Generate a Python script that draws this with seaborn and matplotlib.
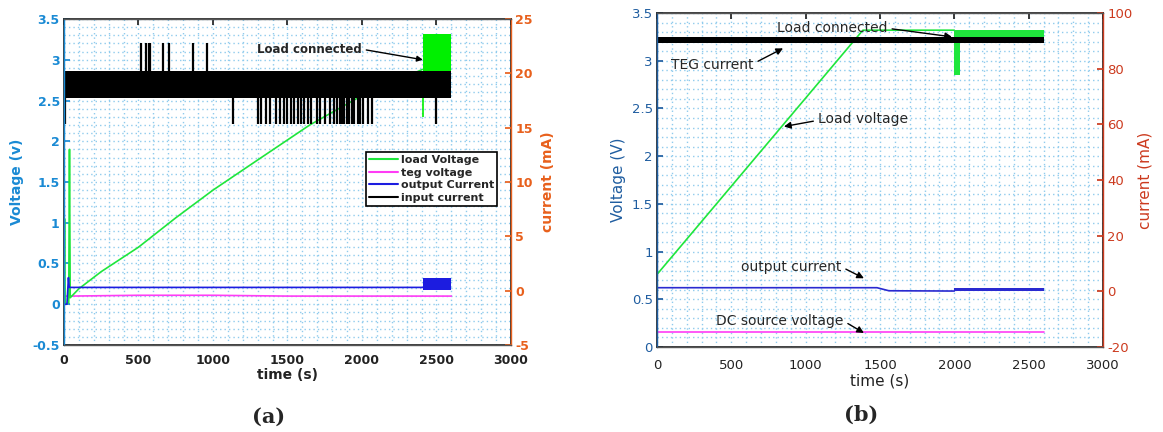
import matplotlib
matplotlib.use("Agg")
import matplotlib.pyplot as plt
import seaborn as sns
from matplotlib.ticker import MultipleLocator, FuncFormatter
from matplotlib.lines import Line2D

# ---------------- panel (a) data ----------------
# load voltage (V), left axis
a_load_t = [0, 4, 8, 12, 32, 37, 42, 100, 250, 500, 750, 1000, 1300, 1650, 2000, 2405]
a_load_v = [0.0, 1.05, 0.02, 0.0, 0.02, 1.9, 0.08, 0.19, 0.40, 0.70, 1.06, 1.40, 1.77, 2.20, 2.56, 2.88]
# load connected block (V)
a_blk_t = [2410, 2600]
a_blk_lo = [2.85, 2.85]
a_blk_hi = [3.32, 3.32]
a_blk_dip = 2.30
# teg voltage (V)
a_teg_t = [0, 40, 500, 1000, 1500, 2600]
a_teg_v = [0.10, 0.10, 0.11, 0.11, 0.10, 0.10]
# output current (mA), right axis
a_out_t = [0, 20, 30, 35, 40, 2410]
a_out_c = [-1.25, -1.25, 1.2, 0.3, 0.3, 0.3]
a_out_blk_t = [2410, 2600]
a_out_blk_lo = [0.03, 0.03]
a_out_blk_hi = [1.2, 1.2]
# input current (mA) band and spikes
a_in_t = [0, 2600]
a_in_lo = [17.7, 17.7]
a_in_hi = [20.2, 20.2]
a_up_t = [517, 550, 568, 577, 662, 707, 863, 957]
a_up_c = 22.75
a_dn_t = [8, 1134, 1300, 1320, 1355, 1380, 1420, 1450, 1480, 1500, 1525, 1545,
          1570, 1590, 1610, 1640, 1660, 1700, 1720, 1750, 1785, 1810, 1830, 1850,
          1865, 1880, 1900, 1915, 1935, 1950, 1975, 1990, 2010, 2040, 2070, 2496]
a_dn_c = 15.3

# ---------------- panel (b) data ----------------
b_load_t = [0, 1385, 2000]
b_load_v = [0.76, 3.32, 3.32]
b_load_band_t = [2000, 2600]
b_load_band_lo = [3.24, 3.24]
b_load_band_hi = [3.32, 3.32]
b_dip_t = [2000, 2035]
b_dip_lo = [2.85, 2.85]
b_dip_hi = [3.25, 3.25]
b_teg_t = [0, 2600]
b_teg_lo = [89.4, 89.4]
b_teg_hi = [91.4, 91.4]
b_out_t = [0, 1480, 1560, 2000]
b_out_c = [1.3, 1.3, 0.2, 0.1]
b_out_band_t = [2000, 2600]
b_out_band_lo = [0.0, 0.0]
b_out_band_hi = [1.1, 1.1]
b_dc_t = [0, 2600]
b_dc_v = [0.157, 0.157]

GREEN = "#1fe63c"
MAGENTA = "#ff3cf5"
BLUE = "#1c1ce0"
GRID = "#8fcbed"

sns.set_theme(style="white")
plt.rcParams["font.family"] = ["DejaVu Sans"]
plt.rcParams["axes.unicode_minus"] = False

matlab_fmt = FuncFormatter(lambda v, pos: "%g" % round(v, 6))


def base_axes(ax, ax2, ylim, y2lim, y2step, lcol, rcol, weight, xpad):
    ax.set_xlim(0, 3000)
    ax.set_ylim(*ylim)
    ax2.set_ylim(*y2lim)
    ax.xaxis.set_major_locator(MultipleLocator(500))
    ax.xaxis.set_minor_locator(MultipleLocator(100))
    ax.yaxis.set_major_locator(MultipleLocator(0.5))
    ax.yaxis.set_minor_locator(MultipleLocator(0.1))
    ax.yaxis.set_major_formatter(matlab_fmt)
    ax2.yaxis.set_major_locator(MultipleLocator(y2step))
    ax2.yaxis.set_major_formatter(matlab_fmt)
    ax.grid(which="both", color=GRID, linestyle=(0, (1, 2.2)), linewidth=1.0)
    size = 9 if weight == "bold" else 9.5
    ax.tick_params(which="major", direction="in", length=4, top=True, right=False,
                   labelsize=size, pad=3)
    ax.tick_params(axis="x", pad=xpad, colors="#222222")
    ax.tick_params(which="minor", length=0)
    ax.tick_params(axis="y", colors=lcol)
    ax2.tick_params(direction="in", length=4, colors=rcol, labelsize=size, pad=3)
    for t in ax.get_xticklabels() + ax.get_yticklabels() + ax2.get_yticklabels():
        t.set_fontweight(weight)
    for sp in ("top", "bottom"):
        ax2.spines[sp].set_color("#555555")
    ax2.spines["left"].set_color(lcol)
    ax2.spines["right"].set_color(rcol)
    for sp in ax2.spines.values():
        sp.set_linewidth(1.0)


fig = plt.figure(figsize=(11.63, 4.32), dpi=100)

# ---------------- (a) ----------------
ax = fig.add_axes([0.0550, 0.2014, 0.3843, 0.7546])
ax2 = ax.twinx()
LBLUE = "#1a8ad4"
ORANGE = "#e8601c"
base_axes(ax, ax2, (-0.5, 3.5), (-5, 25), 5, LBLUE, ORANGE, "bold", 6.5)

sns.lineplot(x=a_teg_t, y=a_teg_v, ax=ax, color=MAGENTA, lw=1.2)
sns.lineplot(x=a_load_t, y=a_load_v, ax=ax, color=GREEN, lw=1.2)
ax.fill_between(a_blk_t, a_blk_lo, a_blk_hi, color="#00f000", lw=0)
ax.vlines(a_blk_t[0], a_blk_dip, a_blk_lo[0], color="#00f000", lw=1.2)

sns.lineplot(x=a_out_t, y=a_out_c, ax=ax2, color=BLUE, lw=1.2)
ax2.fill_between(a_out_blk_t, a_out_blk_lo, a_out_blk_hi, color=BLUE, lw=0)
ax2.fill_between(a_in_t, a_in_lo, a_in_hi, color="black", lw=0)
ax2.vlines(a_up_t, a_in_hi[0], a_up_c, color="black", lw=1.6)
ax2.vlines(a_dn_t, a_dn_c, a_in_lo[0], color="black", lw=1.6)

ax.set_xlabel("time (s)", fontsize=10, fontweight="bold", color="#222222", labelpad=1)
ax.set_ylabel("Voltage (v)", fontsize=10, fontweight="bold", color=LBLUE, labelpad=6)
ax2.set_ylabel("current (mA)", fontsize=10, fontweight="bold", color=ORANGE, labelpad=6)

ax.annotate("Load connected", xy=(2409, 3.0), xytext=(1295, 3.13),
            fontsize=8.5, fontweight="bold", va="center", ha="left",
            arrowprops=dict(arrowstyle="-|>", color="black", lw=1.0,
                            relpos=(1, 0.5), shrinkA=1, shrinkB=0))

handles = [Line2D([], [], color=GREEN, lw=1.5), Line2D([], [], color=MAGENTA, lw=1.5),
           Line2D([], [], color=BLUE, lw=1.5), Line2D([], [], color="black", lw=1.5)]
leg = ax2.legend(handles, ["load Voltage", "teg voltage", "output Current", "input current"],
                 loc="upper right", bbox_to_anchor=(0.969, 0.592), borderaxespad=0,
                 fontsize=8, fancybox=False, framealpha=1, edgecolor="black",
                 handlelength=2.6, handletextpad=0.3, labelspacing=0.25, borderpad=0.25)
leg.get_frame().set_linewidth(1.2)
for t in leg.get_texts():
    t.set_fontweight("bold")

# ---------------- (b) ----------------
bx = fig.add_axes([0.5649, 0.1968, 0.3835, 0.7731])
bx2 = bx.twinx()
DBLUE = "#1f5da0"
RED = "#cc3a1e"
base_axes(bx, bx2, (0, 3.5), (-20, 100), 20, DBLUE, RED, "normal", 9)

sns.lineplot(x=b_dc_t, y=b_dc_v, ax=bx, color=MAGENTA, lw=1.2)
sns.lineplot(x=b_load_t, y=b_load_v, ax=bx, color=GREEN, lw=1.2)
bx.fill_between(b_load_band_t, b_load_band_lo, b_load_band_hi, color=GREEN, lw=0)
bx2.fill_between(b_teg_t, b_teg_lo, b_teg_hi, color="black", lw=0)
bx.fill_between(b_dip_t, b_dip_lo, b_dip_hi, color=GREEN, lw=0, zorder=5)
sns.lineplot(x=b_out_t, y=b_out_c, ax=bx2, color="#2a2ad0", lw=1.2)
bx2.fill_between(b_out_band_t, b_out_band_lo, b_out_band_hi, color="#2a2ad0", lw=0)

bx.set_xlabel("time (s)", fontsize=11, color="#222222", labelpad=1)
bx.set_ylabel("Voltage (V)", fontsize=11, color=DBLUE, labelpad=4)
bx2.set_ylabel("current (mA)", fontsize=11, color=RED, labelpad=4)

arrow = dict(arrowstyle="-|>", color="black", lw=1.0, shrinkA=1, shrinkB=0)
bx.annotate("Load connected", xy=(1984, 3.25), xytext=(807, 3.34), fontsize=10,
            va="center", ha="left", arrowprops=dict(arrow, relpos=(1, 0.5)))
bx.annotate("TEG current", xy=(848, 3.13), xytext=(94, 2.955), fontsize=10,
            va="center", ha="left", arrowprops=dict(arrow, relpos=(1, 0.6)))
bx.annotate("Load voltage", xy=(854, 2.31), xytext=(1083, 2.39), fontsize=10,
            va="center", ha="left", arrowprops=dict(arrow, relpos=(0, 0.4)))
bx.annotate("output current", xy=(1392, 0.72), xytext=(565, 0.84), fontsize=10,
            va="center", ha="left", arrowprops=dict(arrow, relpos=(1, 0.5)))
bx.annotate("DC source voltage", xy=(1392, 0.147), xytext=(397, 0.273), fontsize=10,
            va="center", ha="left", arrowprops=dict(arrow, relpos=(1, 0.5)))

fig.text(269 / 1163, 1 - 417 / 432, "(a)", fontsize=15, fontweight="bold",
         family="DejaVu Serif", ha="center", va="center")
fig.text(861 / 1163, 1 - 415 / 432, "(b)", fontsize=15, fontweight="bold",
         family="DejaVu Serif", ha="center", va="center")

fig.savefig("out.png", dpi=100, facecolor="white")
